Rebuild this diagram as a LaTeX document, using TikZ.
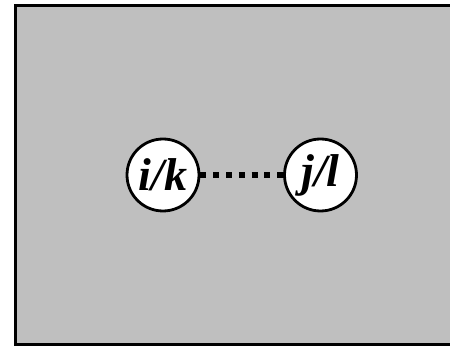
\documentclass[tikz,border=0pt]{standalone}
\usepackage{fontspec}
\setmainfont{Liberation Serif}
\begin{document}
\begin{tikzpicture}[x=1pt,y=-1pt,
  vertex/.style={circle,draw=black,line width=2.8pt,fill=white,minimum size=72pt,inner sep=0pt,
    font=\fontsize{46}{46}\selectfont\bfseries\itshape},
  link/.style={line width=6.5pt,dash pattern=on 6pt off 6.8pt}]
  \useasboundingbox (0,0) rectangle (450,347);
  \fill[white] (0,0) rectangle (450,347);
  \draw[line width=3pt,fill={rgb,255:red,191;green,191;blue,191}] (15,5.5) rectangle (455,345);
  \node[vertex] (ik) at (163,175) {i/k};
  \node[vertex] (jl) at (320.5,175) {j/l};
  \draw[link] (ik) -- (jl);
\end{tikzpicture}
\end{document}
